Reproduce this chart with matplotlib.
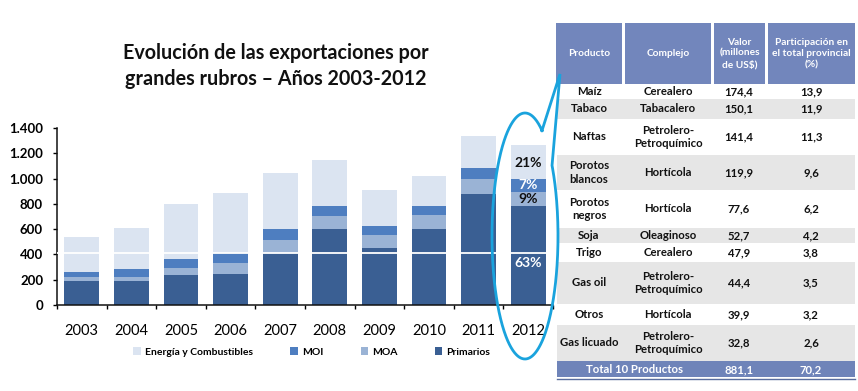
import numpy as np
import matplotlib
matplotlib.use('Agg')
import matplotlib.pyplot as plt
from matplotlib.patches import Rectangle
from matplotlib.lines import Line2D

plt.rcParams['font.family'] = ['Lato', 'DejaVu Sans']

# ---------------- data ----------------
years = ['2003', '2004', '2005', '2006', '2007', '2008', '2009', '2010', '2011', '2012']
primarios = [193, 193, 235, 245, 414, 604, 454, 604, 877, 784]
moa = [31, 31, 58, 90, 101, 101, 100, 111, 121, 113]
moi = [37, 59, 71, 79, 84, 82, 72, 69, 89, 101]
energia = [275, 324, 433, 475, 449, 361, 282, 235, 251, 269]

series_names = ['Primarios', 'MOA', 'MOI', 'Energía y Combustibles']
legend_order = ['Energía y Combustibles', 'MOI', 'MOA', 'Primarios']
colors = ['#3A5F93', '#9AB3D5', '#4E7EC0', '#DBE4F1']

pct_labels_2012 = ['63%', '9%', '7%', '21%']
pct_colors = ['white', '#111111', 'white', '#111111']

yticks = [0, 200, 400, 600, 800, 1000, 1200, 1400]
ytick_labels = ['0', '200', '400', '600', '800', '1.000', '1.200', '1.400']

title = 'Evolución de las exportaciones por\ngrandes rubros – Años 2003-2012'

table_header = ['Producto', 'Complejo', 'Valor\n(millones\nde US$)',
                'Participación en\nel total provincial\n(%)']
productos = ['Maíz', 'Tabaco', 'Naftas', 'Porotos\nblancos', 'Porotos\nnegros',
             'Soja', 'Trigo', 'Gas oil', 'Otros', 'Gas licuado']
complejos = ['Cerealero', 'Tabacalero', 'Petrolero-\nPetroquímico', 'Hortícola',
             'Hortícola', 'Oleaginoso', 'Cerealero', 'Petrolero-\nPetroquímico',
             'Hortícola', 'Petrolero-\nPetroquímico']
valores = ['174,4', '150,1', '141,4', '119,9', '77,6', '52,7', '47,9', '44,4', '39,9', '32,8']
participacion = ['13,9', '11,9', '11,3', '9,6', '6,2', '4,2', '3,8', '3,5', '3,2', '2,6']
total_row = ['Total 10 Productos', '881,1', '70,2']

# ---------------- figure ----------------
W, H = 858, 391
fig = plt.figure(figsize=(W / 100, H / 100), dpi=100)

def px_rect(l, t, r, b):
    return [l / W, 1 - b / H, (r - l) / W, (b - t) / H]

ax = fig.add_axes(px_rect(57, 128, 553, 305))
data = [primarios, moa, moi, energia]
x = np.arange(len(years))
bottom = np.zeros(len(years))
bars = {}
for name, vals, c in zip(series_names, data, colors):
    bars[name] = ax.bar(x, vals, width=0.7, bottom=bottom, color=c, label=name, zorder=2)
    bottom = bottom + np.array(vals)

# white artifact line
ax.axhline(412, color='white', lw=1.3, zorder=3)

# 2012 labels
b = 0
for i, (vals, lab, tc) in enumerate(zip(data, pct_labels_2012, pct_colors)):
    v = vals[-1]
    ypos = b + v * (0.425 if i == 0 else 0.5)
    if i == 3:
        ypos = b + v * 0.47
    ax.text(x[-1], ypos, lab, ha='center', va='center', color=tc,
            fontsize=10, fontweight='bold', zorder=4)
    b += v

ax.set_xlim(-0.5, len(years) - 0.5)
ax.set_ylim(0, 1400)
ax.set_yticks(yticks)
ax.set_yticklabels(ytick_labels, fontsize=9.5, fontweight='bold')
ax.set_xticks(x)
ax.set_xticklabels(years, fontsize=10.5)
ax.set_xticks(np.arange(-0.5, len(years)), minor=True)
ax.tick_params(axis='x', which='major', length=0, pad=14)
ax.tick_params(axis='x', which='minor', length=3, direction='out', width=1)
ax.tick_params(axis='y', length=3, width=1, pad=7)
for s in ['top', 'right']:
    ax.spines[s].set_visible(False)
for s in ['left', 'bottom']:
    ax.spines[s].set_linewidth(1.1)
    ax.spines[s].set_color('#111111')

handles = [bars[n] for n in legend_order]
fig.legend(handles, legend_order, loc='center left', bbox_to_anchor=(124 / W, 1 - 352 / H),
           ncol=4, frameon=False, handlelength=0.7, handleheight=0.7,
           handletextpad=0.4, columnspacing=3.6, prop={'weight': 'bold', 'size': 7.5})

fig.text(276 / W, 1 - 66 / H, title, ha='center', va='center', fontsize=14.2,
         fontweight='bold', linespacing=1.35, color='#111111')

# ---------------- overlay for table and callout ----------------
ov = fig.add_axes([0, 0, 1, 1], facecolor='none')
ov.set_xlim(0, W)
ov.set_ylim(H, 0)
ov.axis('off')

head_col = '#7286BC'
gray = '#E6E6E6'
hdr_cells = [(556, 622), (625, 711), (714, 765), (768, 855)]
col_centers = [589, 668, 739, 811]
for (l, r), txt, cx in zip(hdr_cells, table_header, col_centers):
    ov.add_patch(Rectangle((l, 23), r - l, 61, facecolor=head_col, edgecolor='none'))
    ov.text((l + r) / 2, 53.5, txt, ha='center', va='center', color='white',
            fontsize=7.3, fontweight='bold', linespacing=1.3)

row_edges = [84, 98.7, 118.7, 155.3, 189.7, 228, 243, 261.7, 304, 325, 361]
for i in range(len(productos)):
    t, bt = row_edges[i], row_edges[i + 1]
    if i % 2 == 1:
        ov.add_patch(Rectangle((557, t), 298, bt - t, facecolor=gray, edgecolor='none'))
    yc = (t + bt) / 2
    for txt, cx in zip([productos[i], complejos[i], valores[i], participacion[i]], col_centers):
        ov.text(cx, yc, txt, ha='center', va='center', color='#111111', fontsize=8.2,
                fontweight='bold', linespacing=1.25)

ov.add_patch(Rectangle((557, 361), 298, 16, facecolor='#6F84B9', edgecolor='none'))
ov.add_line(Line2D([557, 855], [378.5, 378.5], color='#5A6E9E', lw=1))
for txt, cx in zip(total_row, [634, 739, 811]):
    ov.text(cx, 369.5, txt, ha='center', va='center', color='white', fontsize=8.2,
            fontweight='bold')

# callout ellipse with wedge
cx_e, cy_e, a_e, b_e = 525, 236, 33, 123
t1 = np.deg2rad(np.linspace(59, 360 + 35, 400))
ex = cx_e + a_e * np.cos(t1)
ey = cy_e - b_e * np.sin(t1)
tip = (560, 74)
px_ = np.concatenate([ex, [tip[0]], [ex[0]]])
py_ = np.concatenate([ey, [tip[1]], [ey[0]]])
ov.add_line(Line2D(px_, py_, color='#1AA3DD', lw=2, solid_joinstyle='miter'))

fig.savefig('out.png', dpi=100)
